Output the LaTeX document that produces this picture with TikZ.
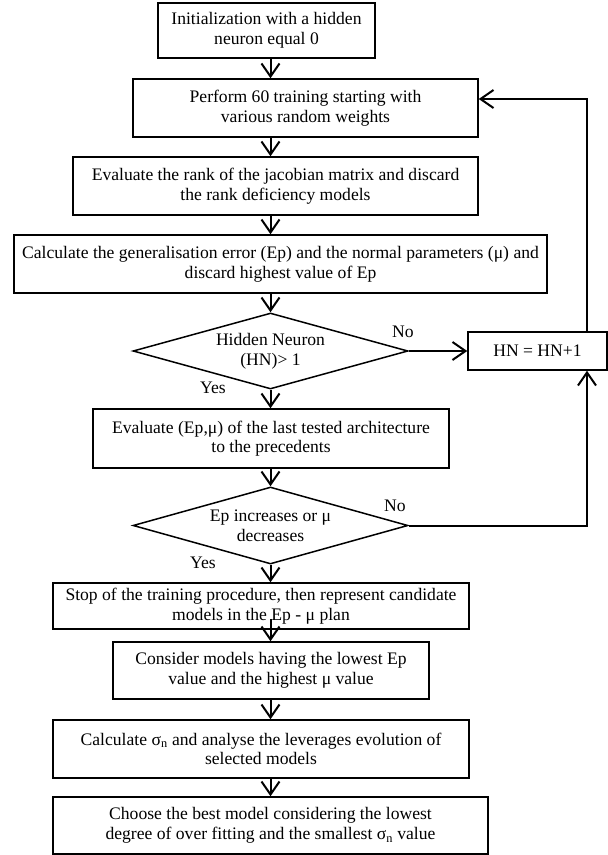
\documentclass[tikz,border=0pt]{standalone}
\usepackage{fontspec}
\setmainfont{Liberation Serif}
\usetikzlibrary{shapes.geometric,arrows.meta}
\begin{document}
\begin{tikzpicture}[x=1pt,y=-1pt,
  every node/.style={font=\fontsize{17.6}{19.6}\selectfont},
  box/.style={draw, line width=1.5pt, inner sep=0pt, align=center},
  dia/.style={draw, diamond, aspect=3.6, line width=1.5pt, inner sep=0pt, align=center},
  arr/.style={line width=2pt, -{Straight Barb[length=13pt,width=18pt]}},
  lbl/.style={inner sep=0pt}]
\useasboundingbox (0,0) rectangle (608,855);
\node[box, minimum width=217pt, minimum height=55pt] (b1) at (266.5,30.5) {Initialization with a hidden\\neuron equal 0};
\node[box, minimum width=345pt, minimum height=58pt] (b2) at (305.5,108) {Perform 60 training starting with\\various random weights};
\node[box, minimum width=405pt, minimum height=58pt] (b3) at (275.5,186) {Evaluate the rank of the jacobian matrix and discard\\the rank deficiency models};
\node[box, minimum width=533pt, minimum height=58pt] (b4) at (280.5,264) {Calculate the generalisation error (Ep) and the normal parameters (μ) and\\discard highest value of Ep};
\node[dia, minimum width=275pt, minimum height=76pt] (d1) at (270.5,351) {Hidden Neuron\\(HN)> 1};
\node[box, minimum width=139pt, minimum height=38pt] (hn) at (537.5,351) {HN = HN+1};
\node[box, minimum width=356pt, minimum height=59pt] (b5) at (271,438.5) {Evaluate (Ep,μ) of the last tested architecture\\to the precedents};
\node[dia, minimum width=275pt, minimum height=77pt] (d2) at (270.5,525.5) {Ep increases or μ\\decreases};
\node[box, minimum width=416pt, minimum height=46pt] (b6) at (261,606) {Stop of the training procedure, then represent candidate\\models in the Ep - μ plan};
\node[box, minimum width=316pt, minimum height=57pt] (b7) at (271,670.5) {Consider models having the lowest Ep\\value and the highest μ value};
\node[box, minimum width=416pt, minimum height=58pt] (b8) at (261,749) {Calculate σ\textsubscript{n} and analyse the leverages evolution of\\selected models};
\node[box, minimum width=435pt, minimum height=57pt] (b9) at (270.5,825.5) {Choose the best model considering the lowest\\degree of over fitting and the smallest σ\textsubscript{n} value};
\node[lbl] (no1) at (403,332) {No};
\node[lbl] (yes1) at (213,388) {Yes};
\node[lbl] (no2) at (395,506) {No};
\node[lbl] (yes2) at (203,563) {Yes};
\coordinate (ax) at (270.5,0);
\coordinate (lp1) at (587,99);
\coordinate (lp2) at (587,525.5);
\draw[arr] (ax |- b1.south) -- (ax |- b2.north);
\draw[arr] (ax |- b2.south) -- (ax |- b3.north);
\draw[arr] (ax |- b3.south) -- (ax |- b4.north);
\draw[arr] (ax |- b4.south) -- (d1.north);
\draw[arr] (d1.south) -- (ax |- b5.north);
\draw[arr] (ax |- b5.south) -- (d2.north);
\draw[arr] (d2.south) -- (ax |- b6.north);
\draw[arr] ([yshift=11pt]ax |- b6.south) -- (ax |- b7.north);
\draw[arr] (ax |- b7.south) -- (ax |- b8.north);
\draw[arr] (ax |- b8.south) -- (ax |- b9.north);
\draw[arr] (d1.east) -- (hn.west);
\draw[arr] (hn.north -| lp1) -- (lp1) -- (lp1 -| b2.east);
\draw[arr] (d2.east) -- (lp2) -- (lp2 |- hn.south);
\end{tikzpicture}
\end{document}
